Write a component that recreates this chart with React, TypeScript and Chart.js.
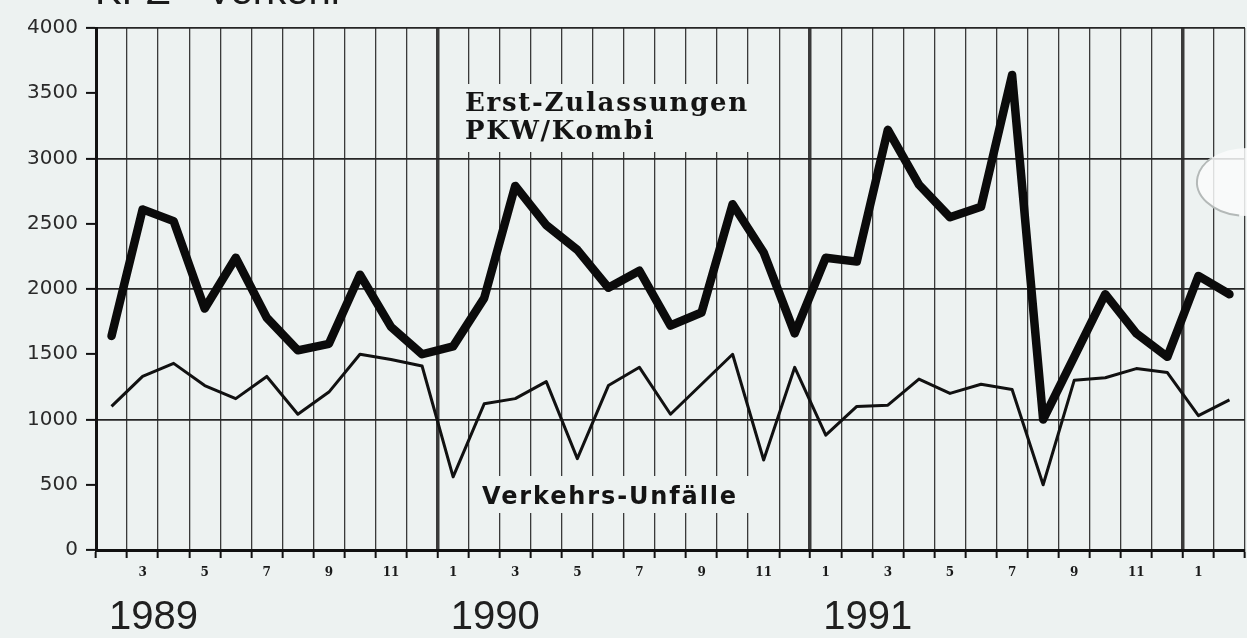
import { useEffect, useRef } from 'react';
import { Chart, registerables } from 'chart.js';

Chart.register(...registerables);

// Months from Feb 1989 to Feb 1992
const months = [
  'Feb 1989', 'Mar 1989', 'Apr 1989', 'May 1989', 'Jun 1989', 'Jul 1989', 'Aug 1989', 'Sep 1989', 'Oct 1989', 'Nov 1989', 'Dec 1989',
  'Jan 1990', 'Feb 1990', 'Mar 1990', 'Apr 1990', 'May 1990', 'Jun 1990', 'Jul 1990', 'Aug 1990', 'Sep 1990', 'Oct 1990', 'Nov 1990', 'Dec 1990',
  'Jan 1991', 'Feb 1991', 'Mar 1991', 'Apr 1991', 'May 1991', 'Jun 1991', 'Jul 1991', 'Aug 1991', 'Sep 1991', 'Oct 1991', 'Nov 1991', 'Dec 1991',
  'Jan 1992', 'Feb 1992',
];

const monthTickLabels = [
  '', '3', '', '5', '', '7', '', '9', '', '11', '',
  '1', '', '3', '', '5', '', '7', '', '9', '', '11', '',
  '1', '', '3', '', '5', '', '7', '', '9', '', '11', '',
  '1', '',
];

const yearTickLabels = [
  '', '1989', '', '', '', '', '', '', '', '', '',
  '', '1990', '', '', '', '', '', '', '', '', '', '',
  '', '1991', '', '', '', '', '', '', '', '', '', '',
  '', '',
];

const erstZulassungen = [
  1640, 2610, 2520, 1850, 2240, 1780, 1530, 1580, 2110, 1710, 1500,
  1560, 1930, 2790, 2490, 2300, 2010, 2140, 1720, 1820, 2650, 2280, 1660,
  2240, 2210, 3220, 2800, 2550, 2630, 3640, 1000, 1480, 1960, 1660, 1480,
  2100, 1960,
];

const verkehrsUnfaelle = [
  1100, 1330, 1430, 1260, 1160, 1330, 1040, 1210, 1500, 1460, 1410,
  560, 1120, 1160, 1290, 700, 1260, 1400, 1040, 1270, 1500, 690, 1400,
  880, 1100, 1110, 1310, 1200, 1270, 1230, 500, 1300, 1320, 1390, 1360,
  1030, 1150,
];

const yearBoundaryIndexes = [11, 23, 35];

const titleText = 'KFZ - Verkehr';
const erstLabel = ['Erst-Zulassungen', 'PKW/Kombi'];
const unfallLabel = 'Verkehrs-Unfälle';

const BG = '#edf2f1';

// reference chart-area frame used to place annotations
const REF = { left: 96, right: 1245, top: 28, bottom: 550 };

function fitText(ctx: CanvasRenderingContext2D, text: string, target: number) {
  (ctx as any).letterSpacing = '0px';
  const w = ctx.measureText(text).width;
  return Math.max(0, (target - w) / text.length);
}

const annotationPlugin = {
  id: 'annotations',
  beforeDatasetsDraw(chart: any) {
    const { ctx, chartArea: ca } = chart;
    const px = (x: number) => ca.left + ((x - REF.left) / (REF.right - REF.left)) * (ca.right - ca.left);
    const py = (y: number) => ca.top + ((y - REF.top) / (REF.bottom - REF.top)) * (ca.bottom - ca.top);
    ctx.save();
    ctx.fillStyle = BG;
    ctx.fillRect(px(456), py(84), px(772) - px(456), py(152) - py(84));
    ctx.fillRect(px(470), py(476), px(760) - px(470), py(513) - py(476));
    ctx.restore();
  },
  afterDatasetsDraw(chart: any) {
    const { ctx, chartArea: ca } = chart;
    const px = (x: number) => ca.left + ((x - REF.left) / (REF.right - REF.left)) * (ca.right - ca.left);
    const py = (y: number) => ca.top + ((y - REF.top) / (REF.bottom - REF.top)) * (ca.bottom - ca.top);
    ctx.save();
    ctx.fillStyle = '#141414';
    ctx.textAlign = 'left';
    ctx.textBaseline = 'alphabetic';

    ctx.font = 'bold 26px "DejaVu Serif"';
    const sp = fitText(ctx, erstLabel[0], 284);
    (ctx as any).letterSpacing = sp + 'px';
    ctx.fillText(erstLabel[0], px(465), py(111));
    ctx.fillText(erstLabel[1], px(465), py(139));

    ctx.font = 'bold 24px "DejaVu Sans"';
    const sp2 = fitText(ctx, unfallLabel, 256);
    (ctx as any).letterSpacing = sp2 + 'px';
    ctx.fillText(unfallLabel, px(482), py(504));
    (ctx as any).letterSpacing = '0px';
    ctx.restore();
  },
  afterDraw(chart: any) {
    const { ctx } = chart;
    ctx.save();
    // cut-off title at the top edge
    ctx.fillStyle = '#1a1a1a';
    ctx.font = '40px "Liberation Sans"';
    ctx.textBaseline = 'alphabetic';
    ctx.textAlign = 'left';
    ctx.fillText(titleText, 95, 4);
    // faint scan artefact at the right edge
    ctx.beginPath();
    ctx.ellipse(1247, 182, 50, 34, 0, Math.PI * 0.5, Math.PI * 1.5);
    ctx.fillStyle = 'rgba(250,252,252,0.85)';
    ctx.fill();
    ctx.beginPath();
    ctx.ellipse(1247, 182, 50, 34, 0, Math.PI * 0.55, Math.PI * 1.25);
    ctx.strokeStyle = '#b4b9b8';
    ctx.lineWidth = 2;
    ctx.stroke();
    ctx.restore();
  },
};

export default function App() {
  const canvasRef = useRef<HTMLCanvasElement | null>(null);

  useEffect(() => {
    document.body.style.margin = '0';
    document.body.style.background = BG;
    const canvas = canvasRef.current;
    if (!canvas) return;
    const chart = new Chart(canvas, {
      type: 'line',
      data: {
        labels: months,
        datasets: [
          {
            label: 'Erst-Zulassungen PKW/Kombi',
            data: erstZulassungen,
            borderColor: '#0b0b0b',
            borderWidth: 8.5,
            pointRadius: 0,
            tension: 0,
            borderJoinStyle: 'round',
            borderCapStyle: 'round',
            fill: false,
          },
          {
            label: 'Verkehrs-Unfälle',
            data: verkehrsUnfaelle,
            borderColor: '#111111',
            borderWidth: 3,
            pointRadius: 0,
            tension: 0,
            borderJoinStyle: 'round',
            fill: false,
          },
        ],
      },
      options: {
        animation: false,
        responsive: true,
        maintainAspectRatio: false,
        layout: { padding: { top: 28, right: 2, left: 0, bottom: 0 } },
        plugins: {
          legend: { display: false },
          tooltip: { enabled: false },
        },
        scales: {
          x: {
            type: 'category',
            position: 'bottom',
            offset: true,
            weight: 0,
            grid: {
              offset: true,
              color: '#3a3a3a',
              lineWidth: (c: any) => (yearBoundaryIndexes.includes(c.index) ? 3.5 : 1.3),
              drawTicks: true,
              tickLength: 8,
              tickColor: '#111',
              tickWidth: 2,
            },
            border: { color: '#111', width: 3 },
            ticks: {
              autoSkip: false,
              maxRotation: 0,
              minRotation: 0,
              padding: 8,
              color: '#1a1a1a',
              font: { family: 'DejaVu Serif', weight: 'bold', size: 12 },
              callback: (_v: any, i: number) => monthTickLabels[i],
            },
            afterFit: (s: any) => {
              s.height = 40;
            },
          },
          years: {
            type: 'category',
            labels: months,
            position: 'bottom',
            offset: true,
            weight: 1,
            grid: { display: false, drawTicks: false },
            border: { display: false },
            ticks: {
              autoSkip: false,
              maxRotation: 0,
              minRotation: 0,
              padding: 4,
              labelOffset: 11,
              color: '#202020',
              font: { family: 'Liberation Sans', size: 40 },
              callback: (_v: any, i: number) => yearTickLabels[i],
            },
            afterFit: (s: any) => {
              s.height = 48;
            },
          },
          y: {
            min: 0,
            max: 4000,
            ticks: {
              stepSize: 500,
              padding: 8,
              color: '#2a2a2a',
              font: { family: 'DejaVu Sans', size: 20 },
              callback: (v: any) => String(v),
            },
            grid: {
              color: (c: any) => (c.tick && c.tick.value % 1000 === 0 ? '#262626' : 'rgba(0,0,0,0)'),
              lineWidth: 1.8,
              tickLength: 10,
              tickColor: '#111',
              tickWidth: 2,
            },
            border: { color: '#111', width: 3 },
            afterFit: (s: any) => {
              s.width = 96;
            },
          },
        },
      },
      plugins: [annotationPlugin],
    });
    return () => chart.destroy();
  }, []);

  return (
    <div style={{ width: 1247, height: 638, position: 'relative', background: BG }}>
      <canvas ref={canvasRef} />
    </div>
  );
}
